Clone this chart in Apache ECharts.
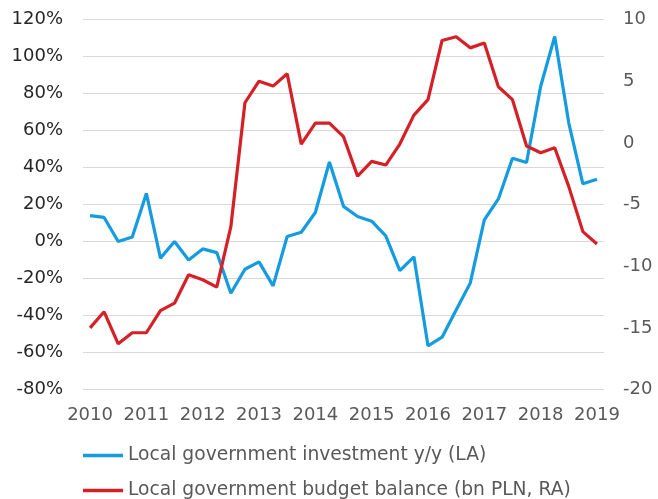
<!DOCTYPE html>
<html>
<head>
<meta charset="utf-8">
<script src="https://cdn.jsdelivr.net/npm/echarts@6/dist/echarts.min.js"></script>
<style>
  html, body { margin: 0; padding: 0; background: #fff; }
  #chart { width: 658px; height: 499px; }
</style>
</head>
<body>
<div id="chart"></div>
<script>
// Quarterly periods, 2010 Q1 – 2019 Q1
const quarters = [
  '2010Q1','2010Q2','2010Q3','2010Q4',
  '2011Q1','2011Q2','2011Q3','2011Q4',
  '2012Q1','2012Q2','2012Q3','2012Q4',
  '2013Q1','2013Q2','2013Q3','2013Q4',
  '2014Q1','2014Q2','2014Q3','2014Q4',
  '2015Q1','2015Q2','2015Q3','2015Q4',
  '2016Q1','2016Q2','2016Q3','2016Q4',
  '2017Q1','2017Q2','2017Q3','2017Q4',
  '2018Q1','2018Q2','2018Q3','2018Q4',
  '2019Q1'
];

// Local government investment, y/y % (left axis)
const investmentYoY = [
  14, 13, 0, 2.4, 26, -9, 0, -10, -4, -6,
  -28, -15, -11, -24, 2.7, 5, 15.7, 43, 19, 13.5,
  11, 3, -15.7, -8.3, -56.4, -51.7, -37, -22.5, 11.7, 23,
  45, 42.7, 83.8, 110.8, 64, 31.2, 33.7
];

// Local government budget balance, bn PLN (right axis)
const budgetBalance = [
  -15.0, -13.7, -16.3, -15.4, -15.4, -13.6, -13.0, -10.7, -11.1, -11.7,
  -6.8, 3.25, 5.0, 4.6, 5.6, -0.1, 1.6, 1.6, 0.5, -2.7,
  -1.5, -1.8, -0.1, 2.25, 3.5, 8.3, 8.6, 7.7, 8.1, 4.55,
  3.5, -0.26, -0.8, -0.4, -3.55, -7.2, -8.2
];

const seriesNames = [
  'Local government investment y/y (LA)',
  'Local government budget balance (bn PLN, RA)'
];

const BLUE = '#149be0';
const RED = '#d42027';
const FONT = 'DejaVu Sans';

const legendText = { fontFamily: FONT, fontSize: 18.7, color: '#595959', lineHeight: 21 };

// One legend row per series, stacked under the plot
const legendRow = (name, top) => ({
  orient: 'horizontal',
  left: 83,
  top: top,
  padding: 0,
  itemWidth: 40,
  itemHeight: 3.5,
  icon: 'rect',
  data: [name],
  textStyle: legendText
});

const chart = echarts.init(document.getElementById('chart'), null, { renderer: 'canvas' });

chart.setOption({
  animation: false,
  backgroundColor: '#ffffff',
  textStyle: { fontFamily: FONT },
  grid: { left: 83, right: 54, top: 19.5, bottom: 109.5, containLabel: false },
  legend: [
    legendRow(seriesNames[0], 445),
    legendRow(seriesNames[1], 480)
  ],
  xAxis: {
    type: 'category',
    data: quarters,
    boundaryGap: true,
    axisLine: { show: false },
    axisTick: { show: false },
    axisLabel: {
      interval: 3,
      margin: 17,
      fontFamily: FONT,
      fontSize: 18,
      color: '#595959',
      formatter: v => v.slice(0, 4)
    },
    splitLine: { show: false }
  },
  yAxis: [
    {
      type: 'value',
      min: -80,
      max: 120,
      interval: 20,
      axisLine: { show: false },
      axisTick: { show: false },
      axisLabel: {
        margin: 20,
        fontFamily: FONT,
        fontSize: 18,
        color: '#262626',
        formatter: v => v + '%'
      },
      splitLine: { lineStyle: { color: '#d9d9d9', width: 1.2 } }
    },
    {
      type: 'value',
      min: -20,
      max: 10,
      interval: 5,
      position: 'right',
      axisLine: { show: false },
      axisTick: { show: false },
      axisLabel: {
        margin: 19,
        fontFamily: FONT,
        fontSize: 18,
        color: '#595959'
      },
      splitLine: { show: false }
    }
  ],
  series: [
    {
      name: seriesNames[0],
      type: 'line',
      yAxisIndex: 0,
      data: investmentYoY,
      symbol: 'none',
      lineStyle: { color: BLUE, width: 3.2 },
      itemStyle: { color: BLUE }
    },
    {
      name: seriesNames[1],
      type: 'line',
      yAxisIndex: 1,
      data: budgetBalance,
      symbol: 'none',
      lineStyle: { color: RED, width: 3.2 },
      itemStyle: { color: RED }
    }
  ]
});
</script>
</body>
</html>
